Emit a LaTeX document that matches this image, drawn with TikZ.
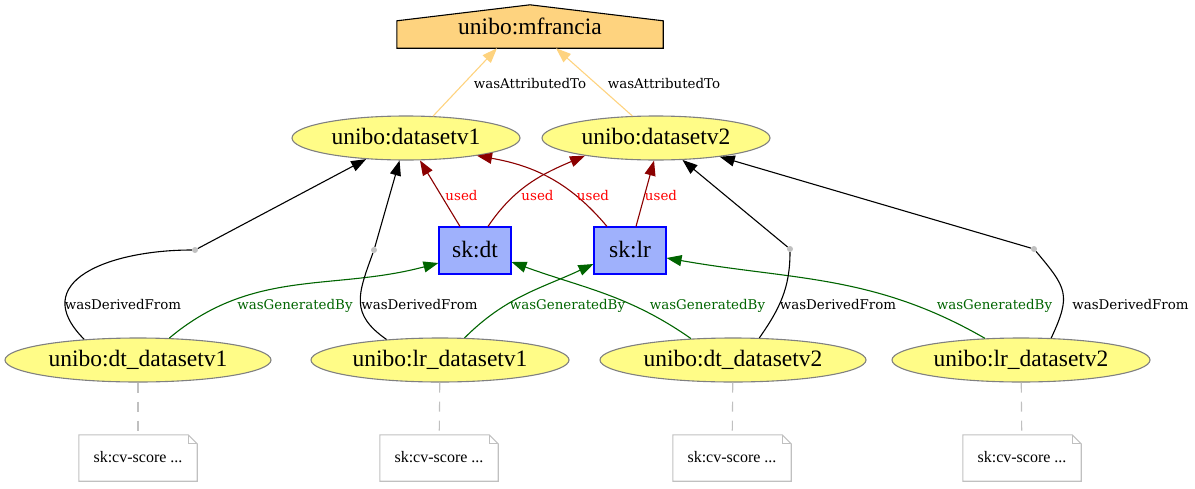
\documentclass[tikz,border=0pt]{standalone}
\usepackage{fontspec}
\setmainfont{Liberation Serif}
\newfontfamily\edgefont{DejaVu Serif}
\usetikzlibrary{calc,arrows.meta,shapes.geometric,backgrounds}
\definecolor{entityfill}{HTML}{FFFC87}
\definecolor{activityfill}{HTML}{9FB1FC}
\definecolor{agentfill}{HTML}{FED37F}
\definecolor{usedred}{HTML}{8B0000}
\definecolor{gengreen}{HTML}{006400}
\definecolor{notegray}{HTML}{C0C0C0}
\tikzset{
  entity/.style={ellipse, draw=gray, fill=entityfill, line width=1.1pt, inner sep=0pt, minimum height=44pt, text height=17pt, text depth=4pt, font=\fontsize{23.5}{28}\selectfont},
  activity/.style={rectangle, draw=blue, fill=activityfill, line width=1.1pt, inner sep=0pt, minimum width=72pt, minimum height=47pt, text height=17pt, text depth=4pt, font=\fontsize{23.5}{28}\selectfont},
  agent/.style={rectangle, inner sep=0pt, minimum width=266pt, minimum height=43pt, text height=18pt, text depth=2pt, font=\fontsize{23.5}{28}\selectfont},
  agentline/.style={draw=black, fill=agentfill, line width=1.1pt},
  notebox/.style={rectangle, inner sep=0pt, minimum width=118pt, minimum height=46pt, text height=12pt, text depth=3pt, font=\fontsize{16}{19}\selectfont},
  noteline/.style={draw=notegray, line width=1.1pt},
  blankdot/.style={circle, fill=notegray, inner sep=0pt, minimum size=6pt},
  arr/.style={-{Triangle[length=15pt,width=11pt]}},
  attributed/.style={arr, draw=agentfill, line width=1.1pt},
  usedby/.style={arr, draw=usedred, line width=1.1pt},
  generated/.style={arr, draw=gengreen, line width=1.1pt},
  derived/.style={arr, draw=black, line width=1.1pt},
  derivedpart/.style={draw=black, line width=1.1pt},
  annot/.style={draw=notegray, line width=1.1pt, dash pattern=on 10pt off 9pt},
  elabel/.style={font=\edgefont\fontsize{13.4}{16}\selectfont, anchor=base, inner sep=0pt}
}

\begin{document}
\begin{tikzpicture}[x=1pt,y=-1pt]
  \useasboundingbox (0,0) rectangle (1195,488);
  % agent
  \node[agent] (mfrancia) at (530,26.5) {unibo:mfrancia};
  \begin{scope}[on background layer]
    \draw[agentline] (mfrancia.south west) -- ($(mfrancia.north west)+(0,16)$) -- (mfrancia.north)
      -- ($(mfrancia.north east)+(0,16)$) -- (mfrancia.south east) -- cycle;
  \end{scope}
  % entities
  \node[entity, minimum width=228pt] (datasetv1) at (406,138) {unibo:datasetv1};
  \node[entity, minimum width=228pt] (datasetv2) at (656,138) {unibo:datasetv2};
  \node[entity, minimum width=266pt] (dtv1) at (138,360) {unibo:dt\_datasetv1};
  \node[entity, minimum width=258pt] (lrv1) at (440,360) {unibo:lr\_datasetv1};
  \node[entity, minimum width=266pt] (dtv2) at (733,360) {unibo:dt\_datasetv2};
  \node[entity, minimum width=258pt] (lrv2) at (1021,360) {unibo:lr\_datasetv2};
  % activities
  \node[activity] (dt) at (475,250.5) {sk:dt};
  \node[activity] (lr) at (630,250.5) {sk:lr};
  % blank nodes of the derivations
  \node[blankdot] (bn1) at (195,250) {};
  \node[blankdot] (bn2) at (374,250) {};
  \node[blankdot] (bn3) at (790,249) {};
  \node[blankdot] (bn4) at (1034,249) {};
  % notes
  \node[notebox] (note1) at (138,458) {sk:cv-score ...};
  \node[notebox] (note2) at (439,458) {sk:cv-score ...};
  \node[notebox] (note3) at (732,458) {sk:cv-score ...};
  \node[notebox] (note4) at (1022,458) {sk:cv-score ...};
  \foreach \n in {note1,note2,note3,note4}{
    \draw[noteline] (\n.south west) -- (\n.north west) -- ($(\n.north east)+(-9,0)$)
      -- ($(\n.north east)+(0,9)$) -- (\n.south east) -- cycle;
    \draw[noteline] ($(\n.north east)+(-9,0)$) -- ($(\n.north east)+(-9,9)$) -- ($(\n.north east)+(0,9)$);
  }
  \draw[annot] (dtv1) -- (note1);
  \draw[annot] (lrv1) -- (note2);
  \draw[annot] (dtv2) -- (note3);
  \draw[annot] (lrv2) -- (note4);
  % wasAttributedTo
  \draw[attributed] (datasetv1.39) -- ($(mfrancia.south)+(-33,0)$)
    node[elabel] (attr1) at (530,88) {wasAttributedTo};
  \draw[attributed] (datasetv2.137) -- ($(mfrancia.south)+(26,0)$)
    node[elabel] (attr2) at (664,88) {wasAttributedTo};
  % used
  \draw[usedby] ($(dt.north)+(-15,0)$) -- (datasetv1.-58)
    node[elabel, text=red] (used1) at (461.5,200) {used};
  \draw[usedby] ($(dt.north)+(13,0)$) to[out=56,in=-157] (datasetv2.194)
    node[elabel, text=red] (used2) at (537.5,200) {used};
  \draw[usedby] ($(lr.north)+(-23,0)$) to[out=130,in=-10] (datasetv1.-14)
    node[elabel, text=red] (used3) at (593,200) {used};
  \draw[usedby] ($(lr.north)+(6,0)$) -- (datasetv2.-95)
    node[elabel, text=red] (used4) at (661,200) {used};
  % wasGeneratedBy
  \draw[generated] (dtv1.35) to[out=40,in=195] ($(dt.west)+(0,12.5)$)
    node[elabel, text=gengreen] (gen1) at (295,309) {wasGeneratedBy};
  \draw[generated] (lrv1.42) to[out=45,in=205] ($(lr.west)+(0,13.5)$)
    node[elabel, text=gengreen] (gen2) at (567.5,309) {wasGeneratedBy};
  \draw[generated] (dtv2.153) to[out=145,in=-20] ($(dt.east)+(0,11.5)$)
    node[elabel, text=gengreen] (gen3) at (707.5,309) {wasGeneratedBy};
  \draw[generated] (lrv2.149) to[out=150,in=-10] ($(lr.east)+(0,7.5)$)
    node[elabel, text=gengreen] (gen4) at (994.5,309) {wasGeneratedBy};
  % wasDerivedFrom
  \draw[derivedpart] (dtv1.159) to[out=135,in=180,looseness=1.5] (bn1);
  \draw[derived] (bn1) -- (datasetv1)
    node[elabel] (der1) at (123,309) {wasDerivedFrom};
  \draw[derivedpart] (lrv1.159) to[out=145,in=-110,looseness=1.3] (bn2);
  \draw[derived] (bn2) -- (datasetv1)
    node[elabel] (der2) at (419.5,309) {wasDerivedFrom};
  \draw[derivedpart] (dtv2.40) to[out=55,in=-90] (bn3);
  \draw[derived] (bn3) -- (datasetv2)
    node[elabel] (der3) at (838,309) {wasDerivedFrom};
  \draw[derivedpart] (lrv2.36) to[out=65,in=-50,looseness=1.4] (bn4);
  \draw[derived] (bn4) -- (datasetv2)
    node[elabel] (der4) at (1130.5,309) {wasDerivedFrom};
\end{tikzpicture}
\end{document}
